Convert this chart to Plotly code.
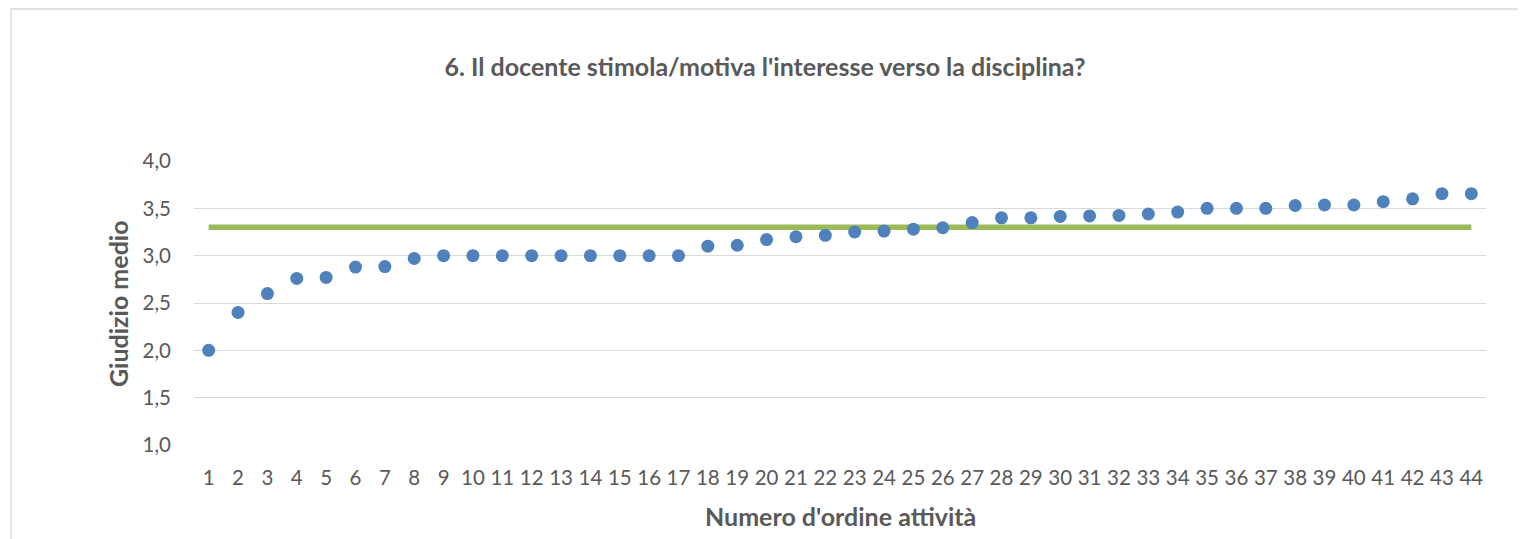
import plotly.graph_objects as go

activities = list(range(1, 45))
tick_labels = [str(i) for i in activities]
giudizio_medio = [
    2.00, 2.40, 2.60, 2.76, 2.77, 2.88, 2.885, 2.97, 3.00, 3.00,
    3.00, 3.00, 3.00, 3.00, 3.00, 3.00, 3.00, 3.10, 3.11, 3.17,
    3.20, 3.215, 3.25, 3.26, 3.28, 3.295, 3.35, 3.40, 3.40, 3.415,
    3.42, 3.425, 3.44, 3.46, 3.50, 3.50, 3.50, 3.53, 3.535, 3.535,
    3.57, 3.60, 3.655, 3.655,
]
media_generale = [3.30] * len(activities)

y_ticks = [1.0, 1.5, 2.0, 2.5, 3.0, 3.5, 4.0]
y_tick_labels = ["1,0", "1,5", "2,0", "2,5", "3,0", "3,5", "4,0"]

FONT = "Lato"
GREY = "#595959"

fig = go.Figure()
fig.add_trace(go.Scatter(
    x=activities, y=media_generale, mode="lines",
    line=dict(color="#9BBB59", width=5.5), hoverinfo="skip", showlegend=False,
))
fig.add_trace(go.Scatter(
    x=activities, y=giudizio_medio, mode="markers",
    marker=dict(color="#4F81BD", size=13), showlegend=False,
))

# page body has an 8px margin, so the figure is placed at (8, 8)
OFF = 8
W, H = 1526, 539 - OFF
L, R, T, B = 194 - OFF, 1486 - OFF, 161 - OFF, 445 - OFF

fig.update_layout(
    width=W, height=H,
    margin=dict(l=L, r=W - R, t=T, b=H - B, pad=0),
    paper_bgcolor="white", plot_bgcolor="white",
    font=dict(family=FONT, color=GREY, size=20.5),
    title=dict(
        text="<b>6. Il docente stimola/motiva l'interesse verso la disciplina?</b>",
        x=(765 - OFF) / W, xanchor="center", y=1 - (67 - OFF) / H, yanchor="middle",
        font=dict(family=FONT, size=25, color=GREY),
    ),
    xaxis=dict(
        range=[0.5, 44.5], tickmode="array", tickvals=activities, ticktext=tick_labels,
        showgrid=False, zeroline=False, showline=False, ticks="",
        ticklabelstandoff=18, tickfont=dict(size=20.5, color=GREY),
    ),
    yaxis=dict(
        range=[1, 4], tickmode="array", tickvals=y_ticks, ticktext=y_tick_labels,
        showgrid=True, gridcolor="#D9D9D9", gridwidth=1.3, zeroline=False, showline=False,
        ticks="", ticklabelstandoff=22, tickfont=dict(size=20.5, color=GREY),
    ),
    annotations=[
        dict(text="<b>Numero d'ordine attività</b>", xref="paper", yref="paper",
             x=0.5, y=(B - (516 - OFF)) / (B - T), xanchor="center", yanchor="middle",
             showarrow=False, font=dict(family=FONT, size=25, color=GREY)),
        dict(text="<b>Giudizio medio</b>", xref="paper", yref="paper",
             x=((118 - OFF) - L) / (R - L), y=(B - (304 - OFF)) / (B - T),
             xanchor="center", yanchor="middle",
             textangle=-90, showarrow=False, font=dict(family=FONT, size=25, color=GREY)),
    ],
    shapes=[
        dict(type="rect", xref="paper", yref="paper",
             x0=((11 - OFF) - L) / (R - L), x1=1.2, y0=-1, y1=(B - (9 - OFF)) / (B - T),
             line=dict(color="#D9D9D9", width=1.3), fillcolor="rgba(0,0,0,0)", layer="below"),
    ],
)

fig.write_html("out.html")
